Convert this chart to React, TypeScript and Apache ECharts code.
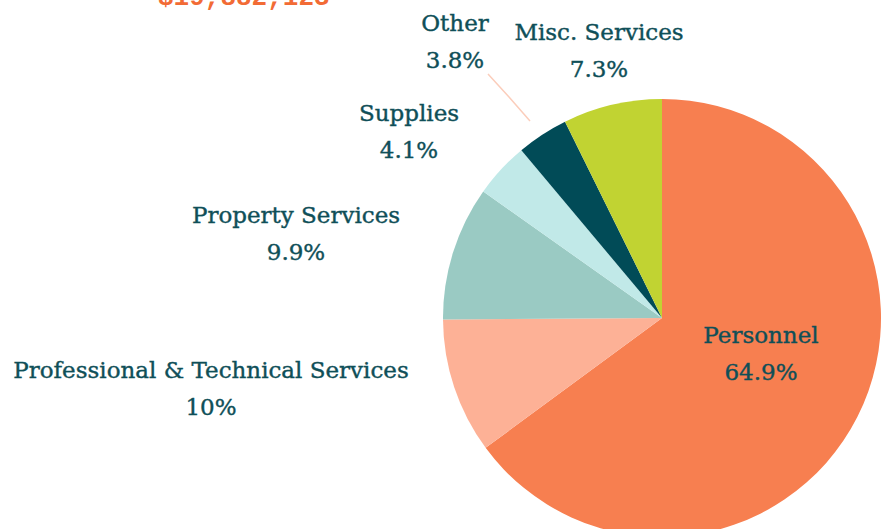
import React, { useEffect, useRef } from "react";
import * as echarts from "echarts";

const categories = [
  "Personnel",
  "Professional & Technical Services",
  "Property Services",
  "Supplies",
  "Other",
  "Misc. Services",
];
const shares = [64.9, 10, 9.9, 4.1, 3.8, 7.3];
const totalLabel = "$19,882,123";

const colors = ["#F77F50", "#FDB196", "#9ACAC3", "#C1E9E8", "#014B57", "#C1D332"];
const labelPos: number[][] = [
  [761, 353],
  [211, 388],
  [296, 233],
  [409, 131],
  [455, 41],
  [599, 50],
];

export default function App() {
  const ref = useRef<HTMLDivElement>(null);
  useEffect(() => {
    if (!ref.current) return;
    const chart = echarts.init(ref.current, null, { renderer: "svg" });
    chart.setOption({
      animation: false,
      backgroundColor: "#ffffff",
      title: {
        text: totalLabel,
        left: 153,
        top: -20,
        textStyle: {
          fontFamily: "Liberation Mono",
          fontWeight: "bold",
          fontSize: 26,
          color: "#F26B35",
        },
      },
      series: [
        {
          type: "pie",
          center: [662, 318],
          radius: 219,
          startAngle: 90,
          clockwise: true,
          avoidLabelOverlap: false,
          itemStyle: { borderColor: "#ffffff", borderWidth: 0 },
          label: {
            show: true,
            position: "outside",
            formatter: "{b}\n{c}%",
            fontFamily: "DejaVu Serif",
            fontSize: 23,
            lineHeight: 37,
            color: "#0F4F58",
            textBorderColor: "#0F4F58",
            textBorderWidth: 0.4,
            align: "center",
          },
          labelLine: { show: false },
          labelLayout: (params: any) => {
            const p = labelPos[params.dataIndex];
            const out: any = {
              x: p[0],
              y: p[1],
              align: "center",
              verticalAlign: "middle",
            };
            if (params.dataIndex === 4) {
              out.labelLinePoints = [
                [530, 121],
                [509, 97],
                [488, 74],
              ];
            }
            return out;
          },
          data: categories.map((name, i) => ({
            name,
            value: shares[i],
            itemStyle: { color: colors[i] },
            labelLine:
              i === 4
                ? { show: true, lineStyle: { color: "#FBCDBB", width: 1.5 } }
                : { show: false },
          })),
        },
      ],
    });
    return () => chart.dispose();
  }, []);
  return (
    <div
      ref={ref}
      style={{ position: "fixed", left: 0, top: 0, width: 884, height: 529 }}
    />
  );
}
